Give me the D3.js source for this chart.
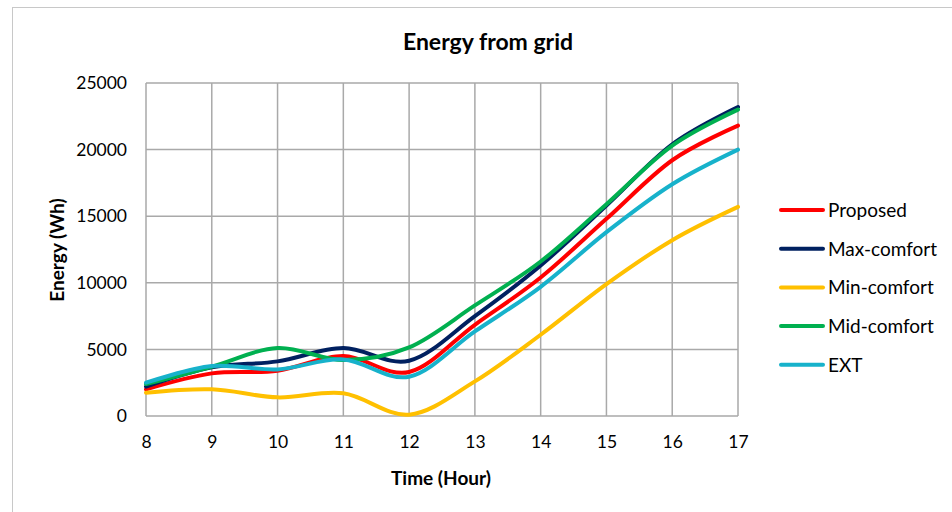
<!DOCTYPE html>
<html><head><meta charset="utf-8">
<script src="https://cdn.jsdelivr.net/npm/d3@7"></script>
<style>body{margin:0;background:#fff;} svg{display:block;font-family:Lato,"Open Sans",sans-serif;}</style>
</head><body>
<svg id="c" width="952" height="512"></svg>
<script>
const hours = [8, 9, 10, 11, 12, 13, 14, 15, 16, 17];
const seriesNames = ["Proposed", "Max-comfort", "Min-comfort", "Mid-comfort", "EXT"];
const proposed   = [2000, 3200, 3400, 4500, 3300, 6850, 10400, 14800, 19200, 21800];
const maxComfort = [2200, 3650, 4100, 5100, 4150, 7500, 11300, 15800, 20400, 23200];
const minComfort = [1750, 2000, 1400, 1700, 100, 2600, 6100, 9900, 13200, 15700];
const midComfort = [2400, 3700, 5100, 4200, 5150, 8300, 11600, 15900, 20300, 23000];
const ext        = [2500, 3750, 3500, 4250, 2950, 6350, 9700, 13800, 17400, 20000];
const seriesValues = [proposed, maxComfort, minComfort, midComfort, ext];
const colors = ["#ff0000", "#002060", "#ffc000", "#00b050", "#17b2cb"];
const yTicks = [0, 5000, 10000, 15000, 20000, 25000];

const svg = d3.select("#c");
const grid = "#a9a9a9";
// outer frame
svg.append("rect").attr("x", 12.5).attr("y", 7.5).attr("width", 960).attr("height", 520)
  .attr("fill", "none").attr("stroke", "#c8c8c8").attr("stroke-width", 1);

const m = {l: 146, r: 738, t: 83, b: 416};
const x = d3.scaleLinear().domain([8, 17]).range([m.l, m.r]);
const y = d3.scaleLinear().domain([0, 25000]).range([m.b, m.t]);

// gridlines
svg.append("g").selectAll("line").data(yTicks).join("line")
  .attr("x1", m.l).attr("x2", m.r).attr("y1", d => y(d)).attr("y2", d => y(d))
  .attr("stroke", grid).attr("stroke-width", 1.5);
svg.append("g").selectAll("line").data(hours).join("line")
  .attr("x1", d => x(d)).attr("x2", d => x(d)).attr("y1", m.t).attr("y2", m.b)
  .attr("stroke", grid).attr("stroke-width", 1.5);

// axes (labels only)
const yAxis = d3.axisLeft(y).tickValues(yTicks).tickSize(0).tickPadding(19).tickFormat(d3.format("d"));
const gy = svg.append("g").attr("transform", `translate(${m.l},0)`).call(yAxis);
gy.select(".domain").remove();
gy.selectAll("text").attr("font-size", 17.5).attr("fill", "#000").attr("font-family", "Lato");

const xAxis = d3.axisBottom(x).tickValues(hours).tickSize(0).tickPadding(20).tickFormat(d3.format("d"));
const gx = svg.append("g").attr("transform", `translate(0,${m.b})`).call(xAxis);
gx.select(".domain").remove();
gx.selectAll("text").attr("font-size", 17.5).attr("fill", "#000").attr("font-family", "Lato");

// lines
const line = d3.line().x((d, i) => x(hours[i])).y(d => y(d)).curve(d3.curveCatmullRom.alpha(0));
svg.append("g").selectAll("path").data(seriesValues).join("path")
  .attr("d", d => line(d)).attr("fill", "none")
  .attr("stroke", (d, i) => colors[i]).attr("stroke-width", 4).attr("stroke-linejoin", "round").attr("stroke-linecap", "round");

// titles
svg.append("text").attr("x", 488).attr("y", 50).attr("text-anchor", "middle")
  .attr("font-size", 23).attr("font-weight", "bold").text("Energy from grid");
svg.append("text").attr("transform", "translate(64,250) rotate(-90)").attr("text-anchor", "middle")
  .attr("font-size", 19).attr("font-weight", "bold").text("Energy (Wh)");
svg.append("text").attr("x", 441).attr("y", 485).attr("text-anchor", "middle")
  .attr("font-size", 19).attr("font-weight", "bold").text("Time (Hour)");

// legend
const lg = svg.append("g").selectAll("g").data(seriesNames).join("g")
  .attr("transform", (d, i) => `translate(781,${210 + i * 38.7})`);
lg.append("line").attr("x1", 0).attr("x2", 42).attr("stroke", (d, i) => colors[i])
  .attr("stroke-width", 4).attr("stroke-linecap", "round");
lg.append("text").attr("x", 47).attr("y", 7).attr("font-size", 19).text(d => d);
</script>
</body></html>
